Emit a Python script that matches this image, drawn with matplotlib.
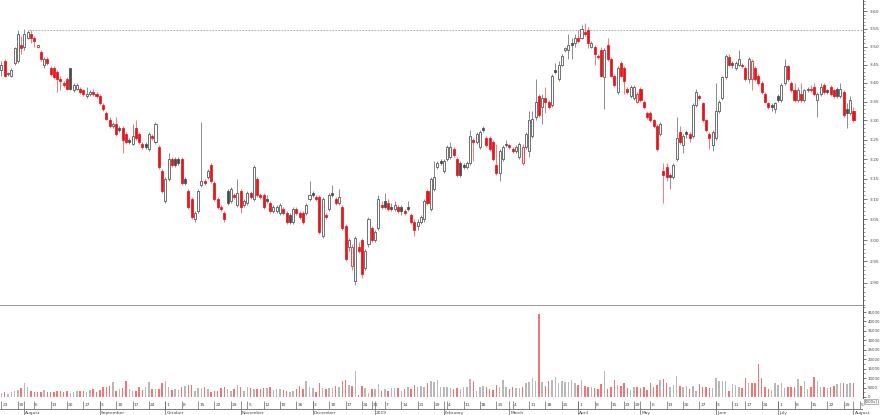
import matplotlib
matplotlib.use('Agg')
import matplotlib.pyplot as plt
from matplotlib.ticker import FixedLocator, FormatStrFormatter, NullFormatter
import numpy as np
import pandas as pd

# trading calendar (ASX holidays removed), ticks run to Aug 5
holidays = ['2018-12-25', '2018-12-26', '2019-01-01', '2019-01-28',
            '2019-04-19', '2019-04-22', '2019-04-25', '2019-06-10']
calendar = pd.bdate_range('2018-07-23', '2019-08-05', freq='C', holidays=holidays)

opens = [
    3.435, 3.46, 3.425, 3.42, 3.455, 3.46, 3.505, 3.50, 3.525, 3.535,
    3.525, 3.50, 3.485, 3.45, 3.465, 3.44, 3.44, 3.43, 3.41, 3.40,
    3.41, 3.44, 3.38, 3.385, 3.385, 3.38, 3.365, 3.37, 3.375, 3.37,
    3.365, 3.34, 3.32, 3.30, 3.285, 3.29, 3.28, 3.28, 3.265, 3.25,
    3.24, 3.28, 3.265, 3.24, 3.24, 3.225, 3.26, 3.245, 3.23, 3.17,
    3.095, 3.15, 3.20, 3.20, 3.20, 3.20, 3.15, 3.12, 3.10, 3.05,
    3.07, 3.135, 3.145, 3.155, 3.185, 3.14, 3.10, 3.08, 3.065, 3.12,
    3.095, 3.11, 3.085, 3.12, 3.085, 3.09, 3.115, 3.10, 3.15, 3.11,
    3.11, 3.10, 3.09, 3.07, 3.07, 3.065, 3.075, 3.065, 3.06, 3.045,
    3.075, 3.065, 3.065, 3.065, 3.10, 3.115, 3.105, 3.105, 3.01, 3.06,
    3.075, 3.115, 3.10, 3.09, 3.08, 3.035, 2.985, 2.94, 2.905, 2.985,
    3.00, 2.935, 2.99, 3.03, 3.00, 3.03, 3.085, 3.095, 3.09, 3.08,
    3.075, 3.08, 3.08, 3.07, 3.08, 3.06, 3.045, 3.035, 3.045, 3.05,
    3.12, 3.075, 3.125, 3.18, 3.195, 3.17, 3.20, 3.205, 3.225, 3.20,
    3.19, 3.185, 3.18, 3.19, 3.25, 3.245, 3.23, 3.28, 3.255, 3.255,
    3.245, 3.185, 3.165, 3.20, 3.24, 3.235, 3.225, 3.22, 3.205, 3.19,
    3.23, 3.22, 3.26, 3.31, 3.365, 3.335, 3.36, 3.35, 3.34, 3.435,
    3.41, 3.45, 3.49, 3.49, 3.51, 3.51, 3.525, 3.525, 3.54, 3.545,
    3.50, 3.50, 3.475, 3.49, 3.415, 3.505, 3.465, 3.42, 3.375, 3.455,
    3.44, 3.385, 3.365, 3.36, 3.35, 3.385, 3.35, 3.32, 3.32, 3.30,
    3.285, 3.265, 3.17, 3.18, 3.16, 3.155, 3.20, 3.27, 3.235, 3.27,
    3.265, 3.26, 3.34, 3.365, 3.345, 3.30, 3.265, 3.235, 3.255, 3.325,
    3.36, 3.415, 3.47, 3.455, 3.44, 3.45, 3.45, 3.44, 3.41, 3.41,
    3.44, 3.42, 3.40, 3.37, 3.345, 3.34, 3.33, 3.365, 3.355, 3.40,
    3.445, 3.40, 3.38, 3.355, 3.37, 3.355, 3.38, 3.385, 3.39, 3.355,
    3.37, 3.395, 3.38, 3.39, 3.38, 3.385, 3.365, 3.375, 3.33, 3.32,
    3.325,
]
highs = [
    3.46, 3.465, 3.43, 3.44, 3.50, 3.545, 3.53, 3.55, 3.545, 3.545,
    3.53, 3.505, 3.49, 3.47, 3.47, 3.445, 3.445, 3.435, 3.42, 3.405,
    3.415, 3.44, 3.40, 3.40, 3.39, 3.385, 3.39, 3.38, 3.385, 3.375,
    3.37, 3.345, 3.325, 3.31, 3.295, 3.31, 3.285, 3.285, 3.27, 3.255,
    3.29, 3.30, 3.27, 3.245, 3.245, 3.27, 3.265, 3.295, 3.235, 3.175,
    3.155, 3.215, 3.205, 3.205, 3.205, 3.205, 3.155, 3.125, 3.105, 3.07,
    3.125, 3.295, 3.15, 3.175, 3.19, 3.145, 3.105, 3.085, 3.07, 3.125,
    3.13, 3.115, 3.15, 3.125, 3.10, 3.12, 3.12, 3.185, 3.155, 3.115,
    3.115, 3.11, 3.095, 3.085, 3.085, 3.09, 3.08, 3.07, 3.065, 3.08,
    3.08, 3.07, 3.07, 3.09, 3.145, 3.12, 3.11, 3.11, 3.105, 3.065,
    3.115, 3.135, 3.105, 3.125, 3.085, 3.04, 3.005, 2.99, 3.01, 2.995,
    3.005, 2.98, 3.055, 3.035, 3.025, 3.11, 3.095, 3.115, 3.10, 3.09,
    3.095, 3.085, 3.085, 3.075, 3.095, 3.065, 3.05, 3.05, 3.06, 3.10,
    3.125, 3.155, 3.195, 3.195, 3.20, 3.20, 3.235, 3.245, 3.23, 3.205,
    3.195, 3.19, 3.195, 3.275, 3.255, 3.27, 3.275, 3.285, 3.26, 3.26,
    3.25, 3.24, 3.225, 3.235, 3.25, 3.24, 3.23, 3.235, 3.245, 3.24,
    3.27, 3.325, 3.325, 3.41, 3.37, 3.37, 3.39, 3.355, 3.425, 3.455,
    3.46, 3.48, 3.50, 3.535, 3.525, 3.535, 3.545, 3.56, 3.565, 3.555,
    3.515, 3.505, 3.48, 3.50, 3.495, 3.525, 3.47, 3.425, 3.445, 3.46,
    3.445, 3.39, 3.395, 3.395, 3.375, 3.39, 3.355, 3.325, 3.325, 3.305,
    3.29, 3.295, 3.19, 3.19, 3.165, 3.19, 3.31, 3.285, 3.265, 3.275,
    3.27, 3.345, 3.385, 3.37, 3.35, 3.305, 3.27, 3.275, 3.40, 3.355,
    3.42, 3.48, 3.48, 3.46, 3.46, 3.49, 3.455, 3.445, 3.47, 3.465,
    3.445, 3.425, 3.405, 3.375, 3.35, 3.345, 3.35, 3.37, 3.40, 3.465,
    3.45, 3.405, 3.40, 3.39, 3.40, 3.385, 3.39, 3.395, 3.40, 3.375,
    3.40, 3.40, 3.385, 3.395, 3.385, 3.39, 3.40, 3.38, 3.345, 3.365,
    3.335,
]
lows = [
    3.42, 3.415, 3.42, 3.415, 3.45, 3.455, 3.48, 3.49, 3.52, 3.51,
    3.50, 3.495, 3.46, 3.44, 3.45, 3.42, 3.41, 3.375, 3.38, 3.39,
    3.38, 3.38, 3.375, 3.38, 3.37, 3.365, 3.36, 3.365, 3.365, 3.36,
    3.34, 3.325, 3.30, 3.28, 3.28, 3.26, 3.27, 3.215, 3.24, 3.24,
    3.235, 3.25, 3.24, 3.225, 3.225, 3.22, 3.25, 3.24, 3.175, 3.115,
    3.09, 3.145, 3.18, 3.18, 3.185, 3.135, 3.135, 3.075, 3.05, 3.045,
    3.065, 3.13, 3.135, 3.15, 3.14, 3.095, 3.075, 3.07, 3.045, 3.085,
    3.09, 3.10, 3.08, 3.065, 3.08, 3.085, 3.10, 3.095, 3.105, 3.10,
    3.075, 3.09, 3.065, 3.065, 3.065, 3.06, 3.06, 3.04, 3.04, 3.04,
    3.06, 3.05, 3.04, 3.06, 3.095, 3.105, 3.095, 3.015, 3.005, 3.05,
    3.07, 3.105, 3.085, 3.085, 3.025, 2.95, 2.975, 2.93, 2.895, 2.97,
    2.91, 2.93, 2.985, 2.995, 2.995, 3.025, 3.075, 3.075, 3.07, 3.07,
    3.07, 3.065, 3.06, 3.06, 3.07, 3.04, 3.01, 3.025, 3.04, 3.045,
    3.085, 3.07, 3.12, 3.175, 3.185, 3.165, 3.195, 3.20, 3.205, 3.155,
    3.155, 3.175, 3.175, 3.185, 3.195, 3.24, 3.225, 3.27, 3.23, 3.22,
    3.195, 3.16, 3.145, 3.195, 3.23, 3.225, 3.215, 3.215, 3.20, 3.185,
    3.225, 3.205, 3.255, 3.30, 3.31, 3.29, 3.32, 3.33, 3.335, 3.425,
    3.405, 3.445, 3.485, 3.465, 3.465, 3.50, 3.51, 3.52, 3.53, 3.495,
    3.495, 3.45, 3.465, 3.415, 3.33, 3.46, 3.415, 3.39, 3.37, 3.415,
    3.37, 3.37, 3.36, 3.355, 3.345, 3.35, 3.33, 3.305, 3.295, 3.28,
    3.22, 3.26, 3.09, 3.145, 3.125, 3.15, 3.195, 3.24, 3.215, 3.255,
    3.245, 3.255, 3.335, 3.355, 3.295, 3.27, 3.225, 3.22, 3.25, 3.32,
    3.355, 3.41, 3.445, 3.44, 3.435, 3.445, 3.44, 3.405, 3.40, 3.38,
    3.405, 3.395, 3.37, 3.345, 3.33, 3.325, 3.32, 3.35, 3.35, 3.395,
    3.405, 3.375, 3.35, 3.35, 3.35, 3.35, 3.375, 3.375, 3.365, 3.31,
    3.365, 3.37, 3.37, 3.365, 3.36, 3.36, 3.36, 3.31, 3.28, 3.315,
    3.295,
]
closes = [
    3.45, 3.42, 3.425, 3.435, 3.495, 3.535, 3.495, 3.535, 3.54, 3.525,
    3.515, 3.50, 3.465, 3.465, 3.455, 3.425, 3.415, 3.41, 3.405, 3.395,
    3.385, 3.385, 3.395, 3.395, 3.375, 3.37, 3.37, 3.375, 3.37, 3.365,
    3.345, 3.33, 3.305, 3.285, 3.29, 3.265, 3.275, 3.25, 3.245, 3.245,
    3.26, 3.255, 3.245, 3.23, 3.23, 3.265, 3.255, 3.29, 3.18, 3.12,
    3.15, 3.20, 3.185, 3.185, 3.19, 3.14, 3.14, 3.08, 3.055, 3.065,
    3.12, 3.145, 3.14, 3.17, 3.145, 3.10, 3.08, 3.075, 3.05, 3.09,
    3.125, 3.105, 3.115, 3.08, 3.095, 3.115, 3.105, 3.18, 3.11, 3.105,
    3.08, 3.095, 3.07, 3.08, 3.08, 3.085, 3.065, 3.045, 3.045, 3.075,
    3.065, 3.055, 3.045, 3.085, 3.11, 3.11, 3.10, 3.02, 3.10, 3.055,
    3.11, 3.11, 3.09, 3.105, 3.03, 2.955, 3.00, 2.985, 3.005, 2.975,
    2.92, 2.975, 3.05, 3.00, 3.02, 3.10, 3.08, 3.08, 3.075, 3.075,
    3.085, 3.07, 3.07, 3.065, 3.075, 3.045, 3.025, 3.045, 3.055, 3.095,
    3.09, 3.15, 3.155, 3.19, 3.19, 3.195, 3.23, 3.23, 3.21, 3.16,
    3.16, 3.18, 3.19, 3.26, 3.245, 3.265, 3.27, 3.275, 3.235, 3.225,
    3.20, 3.165, 3.22, 3.23, 3.235, 3.23, 3.22, 3.23, 3.24, 3.23,
    3.265, 3.30, 3.305, 3.35, 3.315, 3.36, 3.35, 3.335, 3.42, 3.43,
    3.45, 3.475, 3.495, 3.505, 3.505, 3.525, 3.515, 3.55, 3.535, 3.51,
    3.51, 3.48, 3.47, 3.42, 3.49, 3.465, 3.42, 3.395, 3.44, 3.42,
    3.405, 3.375, 3.39, 3.39, 3.37, 3.355, 3.335, 3.31, 3.30, 3.285,
    3.225, 3.29, 3.16, 3.155, 3.155, 3.185, 3.255, 3.245, 3.26, 3.265,
    3.255, 3.34, 3.375, 3.36, 3.30, 3.275, 3.255, 3.27, 3.325, 3.35,
    3.415, 3.475, 3.45, 3.45, 3.455, 3.465, 3.445, 3.41, 3.465, 3.46,
    3.41, 3.40, 3.375, 3.35, 3.335, 3.335, 3.345, 3.355, 3.395, 3.445,
    3.41, 3.38, 3.355, 3.38, 3.355, 3.38, 3.385, 3.38, 3.37, 3.37,
    3.39, 3.375, 3.375, 3.37, 3.365, 3.365, 3.385, 3.315, 3.32, 3.355,
    3.30,
]
volumes = [
    1950, 2800, 1600, 2800, 3350, 3700, 4580, 7230, 5110,
    3350, 2800, 2800, 2800, 3700, 2800, 2800, 2800, 3350,
    3350, 2800, 3350, 1950, 2470, 3350, 3350, 3350, 2650,
    3700, 4050, 2800, 3700, 5110, 5110, 5820, 7940, 3350,
    4410, 4580, 8460, 4050, 3350, 3350, 5110, 3700, 5110, 7940,
    4050, 4050, 4050, 7230, 8640, 5110, 3700, 4050,
    3700, 5110, 5820, 6350, 6350, 3350, 4580, 4580, 5110,
    4050, 2800, 3350, 3350, 4580, 5110, 4410, 3350, 4050, 6350,
    5110, 3350, 5110, 4580, 4410, 4230, 4410, 4580,
    4760, 5110, 3700, 4230,
    4050, 3700, 3350, 2800, 3350, 4050, 5820, 4050, 8460, 5110,
    4580, 2800, 7580, 4580, 4410, 4580, 4580, 5820, 5110, 8640,
    8990, 6350, 5990, 13750, 1060, 5820, 4580, 2290, 4050, 4050,
    6880, 3350, 4050, 3350, 4580, 4580,
    4940, 3350, 4230, 5110, 4050, 6350, 5110, 5820, 5110, 7580,
    8460, 7760, 8990, 5110, 5110, 5110, 4580, 4050, 4940, 4050,
    5110, 5110, 9520, 8460, 3350, 5110, 5990, 5110, 4050, 3700,
    6350, 5110, 8990, 5110, 4050, 5110, 4580, 4580, 5110, 7230,
    8110, 9880, 8460, 43900, 8110, 5820, 8460, 8990, 10400,
    7580,
    8640, 8110, 8110, 8990, 7580, 6350, 8990, 5820, 5110, 5110,
    4760, 4410, 6700, 13750, 4230, 5110, 8990, 6350, 5820, 7230,
    4580, 3700, 5110, 5470, 4580, 5470, 3700, 7230, 5110, 6350,
    8990, 9520, 7230, 5110, 6170, 11110, 5820, 5110, 5820, 4050,
    5820, 3350, 6880, 5110, 5110, 4580, 4580, 9880, 8460, 8460,
    8460, 3350, 6700, 6350, 5110, 4580, 9880, 7230, 7580, 7230,
    17460, 10230, 5110, 4050, 3700, 7580, 6350, 7230, 4580, 5470,
    5110, 5110, 9350, 5820, 8460, 4410, 5110, 10760, 8460, 5110,
    5110, 4940, 5110, 5820, 6880, 7230, 7580, 6880, 7230, 7230,
]
ref_day = 8  # earlier high carried across as dotted line

n = min(len(opens), len(highs), len(lows), len(closes), len(volumes))
o = np.array(opens[:n]); h = np.array(highs[:n])
l = np.array(lows[:n]); c = np.array(closes[:n])
v = np.array(volumes[:n])
x = np.arange(n)
prev = np.r_[c[0], c[:-1]]
down = c < prev
filled = c < o

edge = np.where(down, '#e8141c', '#4a4a4a')
wick = np.where(down, '#f27c7c', '#8c8c8c')
face = np.where(filled, edge, 'white')
vol_col = np.where(down, '#f27474', '#b8b8b8')

W, H = 880, 415
def rect(x0, y0, x1, y1):
    return [x0 / W, 1 - y1 / H, (x1 - x0) / W, (y1 - y0) / H]

fig = plt.figure(figsize=(8.8, 4.15), dpi=100)
ax_p = fig.add_axes(rect(0, 0, 863, 306))
ax_v = fig.add_axes(rect(0, 306, 863, 398))
ax_d = fig.add_axes(rect(0, 398, 863, 415))
xlim = (-0.45, 262.9)
tick_col = '#444444'
fs = 3.2

# price panel
ax_p.vlines(x, l, h, colors=wick, lw=0.7, zorder=2)
ax_p.bar(x, np.maximum(np.abs(c - o), 0.003), bottom=np.minimum(o, c), width=0.62,
         color=face, edgecolor=edge, linewidth=0.55, zorder=3)
ax_p.hlines(h[ref_day], ref_day + 0.5, xlim[1], colors='#a0a0a0', lw=0.6,
            linestyles=(0, (2, 1.6)), zorder=1)
ax_p.set_yscale('log')
ax_p.set_ylim(2.847, 3.632)
ax_p.set_xlim(xlim)
ax_p.yaxis.tick_right()
ax_p.yaxis.set_major_locator(FixedLocator(np.arange(2.90, 3.601, 0.05)))
ax_p.yaxis.set_major_formatter(FormatStrFormatter('%.2f'))
ax_p.yaxis.set_minor_locator(FixedLocator(np.arange(2.85, 3.635, 0.01)))
ax_p.yaxis.set_minor_formatter(NullFormatter())
ax_p.set_xticks([])
ax_p.tick_params(axis='y', which='major', labelsize=fs, length=3, width=0.5,
                 pad=1.5, colors=tick_col)
ax_p.tick_params(axis='y', which='minor', length=1.5, width=0.4, colors=tick_col)
for s in ('left', 'top'):
    ax_p.spines[s].set_visible(False)
ax_p.spines['bottom'].set_color('#7a7a7a')
ax_p.spines['bottom'].set_linewidth(1.1)
ax_p.spines['right'].set_color('#555555')
ax_p.spines['right'].set_linewidth(0.7)

# volume panel
ax_v.bar(x, v, width=0.45, color=vol_col, linewidth=0)
ax_v.set_xlim(xlim)
ax_v.set_ylim(-530, 48180)
ax_v.yaxis.tick_right()
ax_v.yaxis.set_major_locator(FixedLocator(np.arange(0, 45001, 5000)))
ax_v.yaxis.set_major_formatter(FormatStrFormatter('%d'))
ax_v.yaxis.set_minor_locator(FixedLocator(np.arange(0, 47600, 2500)))
ax_v.set_xticks([])
ax_v.tick_params(axis='y', which='major', labelsize=2.9, length=2.5, width=0.5,
                 pad=1.0, colors=tick_col)
ax_v.tick_params(axis='y', which='minor', length=1.5, width=0.4, colors=tick_col)
for s in ('left', 'top', 'bottom'):
    ax_v.spines[s].set_visible(False)
ax_v.spines['right'].set_color('#555555')
ax_v.spines['right'].set_linewidth(0.7)

# date strip
ax_d.set_xlim(xlim)
ax_d.set_ylim(415, 398)
ax_d.axis('off')
ax_d.axhline(409, color='#666666', lw=0.6)
weeks = calendar.to_period('W')
for i in range(len(calendar)):
    if i == 0 or weeks[i] != weeks[i - 1]:
        ax_d.vlines(i, 400.5, 409, colors='#666666', lw=0.5)
        ax_d.text(i + 0.3, 405, str(calendar[i].day), fontsize=fs, color=tick_col,
                  ha='left', va='center', clip_on=False)
    if i > 0 and calendar[i].month != calendar[i - 1].month:
        name = str(calendar[i].year) if calendar[i].month == 1 else calendar[i].strftime('%B')
        ax_d.vlines(i, 400.5, 415, colors='#666666', lw=0.5)
        ax_d.text(i + 0.3, 412.6, name, fontsize=fs, color=tick_col,
                  ha='left', va='center', clip_on=False)

fig.text(865 / W, 1 - 401.5 / H, '[000s]', fontsize=2.8, color=tick_col, va='center',
         bbox=dict(boxstyle='square,pad=0.15', fc='white', ec='#777777', lw=0.4))

fig.savefig('out.png', dpi=100)
